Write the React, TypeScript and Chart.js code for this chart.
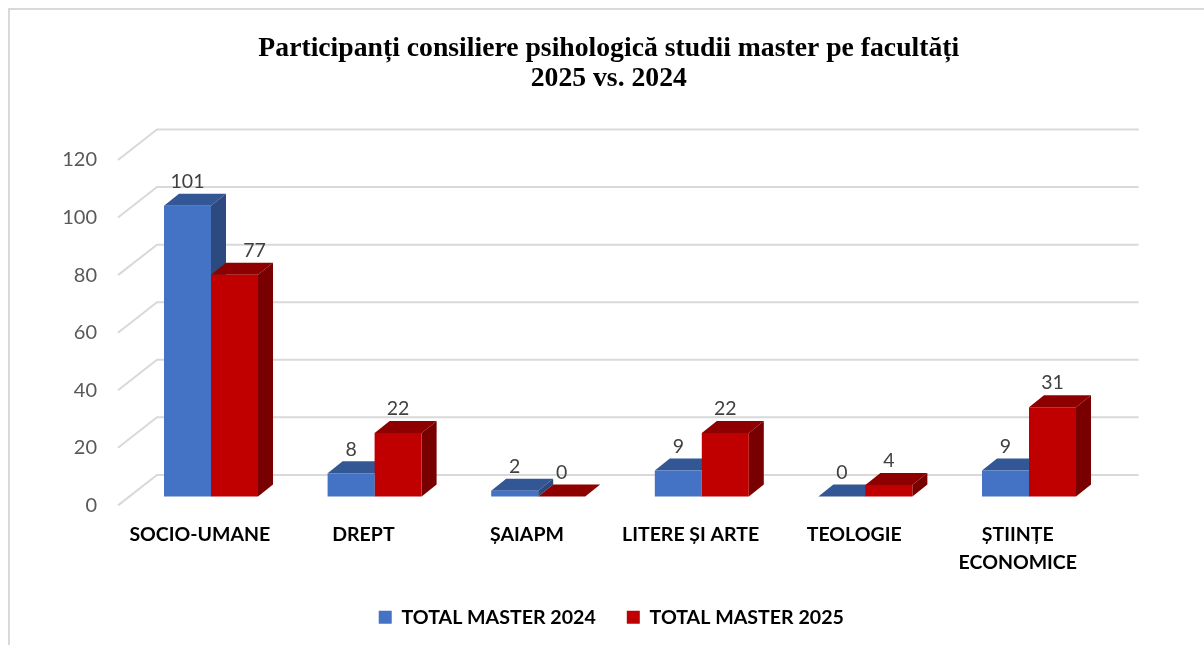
import React, { useEffect, useRef } from "react";
import { Chart, registerables } from "chart.js";

Chart.register(...registerables);

const categories = ["SOCIO-UMANE", "DREPT", "ȘAIAPM", "LITERE ȘI ARTE", "TEOLOGIE", ["ȘTIINȚE", "ECONOMICE"]];
const master2024 = [101, 8, 2, 9, 0, 9];
const master2025 = [77, 22, 0, 22, 4, 31];
const yTickStep = 20;
const yMax = 120;
const titleLines = ["Participanți consiliere psihologică studii master pe facultăți", "2025 vs. 2024"];

const WALL = { dx: 39, dy: -30.5 };
const PLANE = { dx: 11.2, dy: -9 };
const DEPTH = { dx: 15, dy: -12 };
const SHADES = [
  { front: "#4472C4", top: "#335694", side: "#2C4A80" },
  { front: "#C00000", top: "#8E0000", side: "#780000" },
];
const GRID = "#D9D9D9";

function poly(ctx: CanvasRenderingContext2D, pts: number[][], fill: string) {
  ctx.fillStyle = fill;
  ctx.beginPath();
  pts.forEach((p, i) => (i ? ctx.lineTo(p[0], p[1]) : ctx.moveTo(p[0], p[1])));
  ctx.closePath();
  ctx.fill();
}

const depthPlugin = {
  id: "depth",
  afterLayout(chart: any) {
    chart.legend.left += 2.5;
    chart.legend.right += 2.5;
  },
  beforeDraw(chart: any) {
    const ctx = chart.ctx;
    ctx.save();
    ctx.fillStyle = "#fff";
    ctx.fillRect(0, 0, chart.width, chart.height);
    ctx.strokeStyle = GRID;
    ctx.lineWidth = 2;
    ctx.beginPath();
    ctx.moveTo(9, chart.height);
    ctx.lineTo(9, 9);
    ctx.lineTo(chart.width, 9);
    ctx.stroke();
    ctx.restore();
  },
  beforeDatasetsDraw(chart: any) {
    const ctx = chart.ctx;
    const yScale = chart.scales.y;
    const { left, right } = chart.chartArea;
    ctx.save();
    ctx.strokeStyle = GRID;
    ctx.lineWidth = 2;
    for (let v = 0; v <= yMax; v += yTickStep) {
      const py = yScale.getPixelForValue(v);
      ctx.beginPath();
      ctx.moveTo(left, py);
      ctx.lineTo(left + WALL.dx, py + WALL.dy);
      ctx.lineTo(right + WALL.dx, py + WALL.dy);
      ctx.stroke();
    }
    ctx.translate(PLANE.dx, PLANE.dy);
    // Extrusions go first, blue then red, so that the red faces cover the blue side.
    chart.data.datasets.forEach((_: any, di: number) => {
      const s = SHADES[di];
      chart.getDatasetMeta(di).data.forEach((bar: any) => {
        const { x, y, base, width } = bar.getProps(["x", "y", "base", "width"], true);
        const l = x - width / 2;
        const r = x + width / 2;
        poly(ctx, [[l, y], [l + DEPTH.dx, y + DEPTH.dy], [r + DEPTH.dx, y + DEPTH.dy], [r, y]], s.top);
        poly(ctx, [[r, y], [r + DEPTH.dx, y + DEPTH.dy], [r + DEPTH.dx, base + DEPTH.dy], [r, base]], s.side);
      });
    });
    ctx.restore();
  },
  beforeDatasetDraw(chart: any) {
    chart.ctx.save();
    chart.ctx.translate(PLANE.dx, PLANE.dy);
  },
  afterDatasetDraw(chart: any) {
    chart.ctx.restore();
  },
  afterDatasetsDraw(chart: any) {
    const ctx = chart.ctx;
    ctx.save();
    ctx.font = "19.5px Lato";
    ctx.fillStyle = "#404040";
    ctx.textAlign = "center";
    ctx.textBaseline = "middle";
    chart.data.datasets.forEach((ds: any, di: number) => {
      chart.getDatasetMeta(di).data.forEach((bar: any, i: number) => {
        const shift = di === 1 && i === 0 ? 20 : 0;
        ctx.fillText(String(ds.data[i]), bar.x + PLANE.dx + shift, bar.y + PLANE.dy + DEPTH.dy - 12);
      });
    });
    ctx.restore();
  },
};

export default function App() {
  const ref = useRef<HTMLCanvasElement>(null);
  useEffect(() => {
    const chart = new Chart(ref.current as HTMLCanvasElement, {
      type: "bar",
      data: {
        labels: categories as any,
        datasets: [
          { label: "TOTAL MASTER 2024", data: master2024, backgroundColor: SHADES[0].front, clip: false } as any,
          { label: "TOTAL MASTER 2025", data: master2025, backgroundColor: SHADES[1].front, clip: false } as any,
        ],
      },
      options: {
        animation: false,
        responsive: false,
        maintainAspectRatio: false,
        layout: { padding: { left: 0, right: 104.4, top: 0, bottom: 8 } },
        datasets: { bar: { barPercentage: 1, categoryPercentage: 0.5746 } },
        scales: {
          x: {
            grid: { display: false, drawTicks: false },
            border: { display: false },
            ticks: {
              color: "#000",
              padding: 15,
              maxRotation: 0,
              autoSkip: false,
              font: { family: "Lato", size: 19.5, weight: "bold", lineHeight: 1.43 },
            },
            afterFit(s: any) { s.height = 71; },
          },
          y: {
            min: 0,
            max: yMax,
            grid: { display: false, drawTicks: false },
            border: { display: false },
            ticks: {
              stepSize: yTickStep,
              color: "#595959",
              padding: 21,
              font: { family: "Lato", size: 20 },
            },
            afterFit(s: any) { s.width = 118; },
          },
        },
        plugins: {
          tooltip: { enabled: false },
          title: {
            display: true,
            text: titleLines,
            fullSize: false,
            color: "#000",
            padding: { top: 34, bottom: 66 },
            font: { family: "Liberation Serif", size: 27.7, weight: "bold", lineHeight: 1.083 },
          },
          legend: {
            position: "bottom",
            fullSize: false,
            labels: {
              color: "#000",
              boxWidth: 13,
              boxHeight: 13,
              padding: 31,
              font: { family: "Lato", size: 19.6, weight: "bold" },
            },
          },
        },
      },
      plugins: [depthPlugin],
    } as any);
    return () => chart.destroy();
  }, []);
  return (
    <div style={{ position: "absolute", left: 0, top: 0, width: 1204, height: 645 }}>
      <canvas ref={ref} width={1204} height={645} style={{ display: "block" }} />
    </div>
  );
}
